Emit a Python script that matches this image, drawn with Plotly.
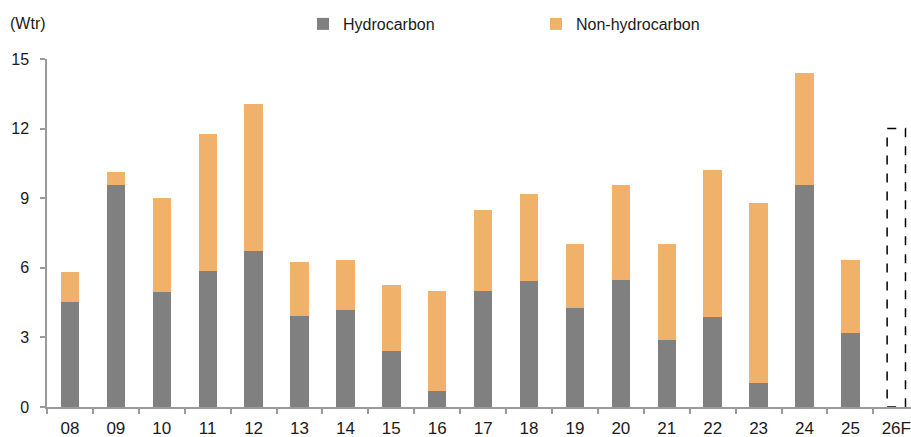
import plotly.graph_objects as go

categories = ["08", "09", "10", "11", "12", "13", "14", "15", "16", "17",
              "18", "19", "20", "21", "22", "23", "24", "25", "26F"]
hydrocarbon = [4.54, 9.57, 4.97, 5.88, 6.72, 3.94, 4.19, 2.41, 0.69, 5.01,
               5.41, 4.28, 5.47, 2.90, 3.88, 1.03, 9.56, 3.20, None]
totals = [5.84, 10.12, 9.03, 11.78, 13.05, 6.27, 6.35, 5.25, 4.99, 8.51,
          9.20, 7.04, 9.59, 7.03, 10.23, 8.78, 14.38, 6.35, None]
non_hydrocarbon = [None if t is None else round(t - h, 2) for t, h in zip(totals, hydrocarbon)]
forecast_category = "26F"
forecast_total = 12.0
y_ticks = [0, 3, 6, 9, 12, 15]

GREY = "#808080"
ORANGE = "#F0B26B"
AXIS = "#9a9a9a"
FONT = "Liberation Sans, Arial, sans-serif"

fig = go.Figure()
fig.add_trace(go.Bar(x=categories, y=hydrocarbon, name="Hydrocarbon",
                     marker=dict(color=GREY, line=dict(width=0))))
fig.add_trace(go.Bar(x=categories, y=non_hydrocarbon, name="Non-hydrocarbon",
                     marker=dict(color=ORANGE, line=dict(width=0))))

bar_w = 0.4
fi = categories.index(forecast_category)
fig.add_shape(type="rect", xref="x", yref="y",
              x0=fi - bar_w / 2, x1=fi + bar_w / 2, y0=0, y1=forecast_total,
              line=dict(color="black", width=1.5, dash="dash"),
              fillcolor="rgba(0,0,0,0)")

fig.add_annotation(text="(Wtr)", xref="paper", yref="paper",
                   x=(8 - 47) / 864, y=1 + (59 - 23.5) / 348,
                   xanchor="left", yanchor="middle", showarrow=False,
                   font=dict(size=16, color="#1a1a1a", family=FONT))

fig.update_layout(
    width=911, height=437,
    margin=dict(l=47, r=0, t=59, b=30, pad=0, autoexpand=False),
    barmode="stack", bargap=1 - bar_w,
    plot_bgcolor="white", paper_bgcolor="white",
    font=dict(family=FONT, size=16, color="#1a1a1a"),
    showlegend=True,
    legend=dict(orientation="h", x=(303 - 47) / 864, y=1 + (59 - 24) / 348,
                xanchor="left", yanchor="middle",
                entrywidth=188, entrywidthmode="pixels",
                font=dict(size=16, color="#1a1a1a", family=FONT),
                bgcolor="rgba(0,0,0,0)", traceorder="normal"),
    xaxis=dict(type="category", range=[-0.5, 18.32], automargin=False,
               showline=True, linecolor=AXIS, linewidth=1.5,
               ticks="outside", tickson="boundaries", ticklen=5,
               tickcolor=AXIS, tickwidth=1.5, showgrid=False,
               tickfont=dict(size=17), ticklabelstandoff=5, fixedrange=True),
    yaxis=dict(range=[0, 15], tickvals=y_ticks, automargin=False,
               showline=True, linecolor=AXIS, linewidth=1.5,
               ticks="outside", ticklen=5, tickcolor=AXIS, tickwidth=1.5,
               showgrid=False, zeroline=False, ticklabelstandoff=8,
               fixedrange=True),
)

fig.write_html("out.html", config={"displayModeBar": False},
               post_script="document.body.style.margin='0';")
